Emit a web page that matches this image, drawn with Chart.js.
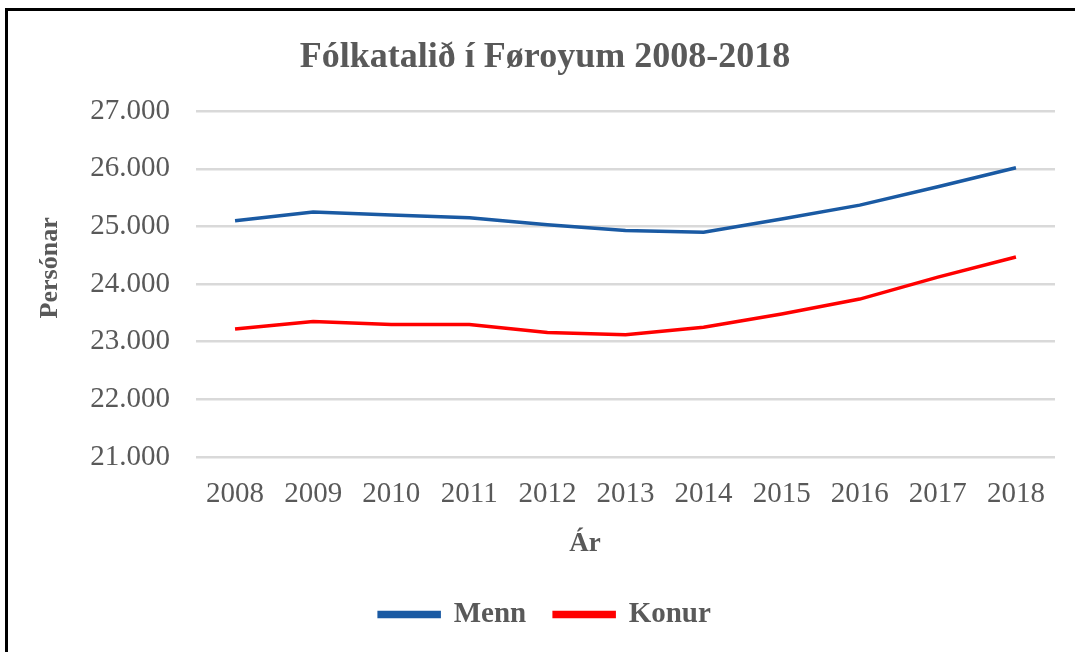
<!DOCTYPE html>
<html>
<head>
<meta charset="utf-8">
<script src="https://cdn.jsdelivr.net/npm/chart.js@4"></script>
<style>
  html, body { margin: 0; padding: 0; background: #fff; overflow: hidden; }
  #frame {
    position: absolute; left: 5px; top: 8px;
    width: 1067px; height: 641px;
    border-left: 3px solid #000; border-top: 3px solid #000;
  }
  canvas { display: block; }
</style>
</head>
<body>
<div id="frame"><canvas id="chart" width="1067" height="641"></canvas></div>
<script>
const years = ["2008", "2009", "2010", "2011", "2012", "2013", "2014", "2015", "2016", "2017", "2018"];
const menn = [25100, 25250, 25200, 25150, 25030, 24930, 24900, 25130, 25370, 25690, 26020];
const konur = [23220, 23350, 23300, 23300, 23160, 23120, 23250, 23480, 23740, 24120, 24470];

const serif = "'Times New Roman', 'Liberation Serif', serif";
const grey = "#595959";

// 27000 -> "27.000"
function fmt(v) {
  return String(v).replace(/\B(?=(\d{3})+(?!\d))/g, ".");
}

new Chart(document.getElementById("chart"), {
  type: "line",
  data: {
    labels: years,
    datasets: [
      {
        label: "Menn",
        data: menn,
        borderColor: "#1A5AA3",
        backgroundColor: "#1A5AA3",
        borderWidth: 3.5,
        pointRadius: 0,
        tension: 0,
        fill: false,
      },
      {
        label: "Konur",
        data: konur,
        borderColor: "#FF0000",
        backgroundColor: "#FF0000",
        borderWidth: 3.5,
        pointRadius: 0,
        tension: 0,
        fill: false,
      },
    ],
  },
  options: {
    responsive: false,
    animation: false,
    devicePixelRatio: 1,
    layout: { padding: { left: 27, right: 20, top: 0, bottom: 13 } },
    plugins: {
      title: {
        display: true,
        text: "Fólkatalið í Føroyum 2008-2018",
        color: grey,
        font: { family: serif, size: 36, weight: "bold" },
        padding: { top: 25, bottom: 32 },
      },
      legend: {
        position: "bottom",
        labels: {
          color: grey,
          font: { family: serif, size: 29, weight: "bold" },
          boxWidth: 60,
          boxHeight: 4,
          padding: 28,
        },
      },
      tooltip: { enabled: false },
    },
    scales: {
      x: {
        offset: true,
        grid: { display: false, drawTicks: false },
        border: { display: false },
        ticks: {
          color: grey,
          font: { family: serif, size: 29 },
          padding: 20,
          maxRotation: 0,
        },
        title: {
          display: true,
          // trailing spaces pull the title left, as in the original
          text: "Ár\u2003\u2003\u2003",
          color: grey,
          font: { family: serif, size: 27, weight: "bold" },
          padding: { top: 0, bottom: 12 },
        },
        afterFit: (scale) => { scale.height = 115; },
      },
      y: {
        min: 21000,
        max: 27000,
        grid: { color: "#D9D9D9", lineWidth: 2.5, drawTicks: false },
        border: { display: false },
        ticks: {
          stepSize: 1000,
          color: grey,
          font: { family: serif, size: 29 },
          padding: 26,
          callback: (v) => fmt(v),
        },
        title: {
          display: true,
          text: "\u2003 Persónar",
          color: grey,
          font: { family: serif, size: 26, weight: "bold" },
          padding: 0,
        },
        afterFit: (scale) => { scale.width = 161; },
      },
    },
  },
});
</script>
</body>
</html>
